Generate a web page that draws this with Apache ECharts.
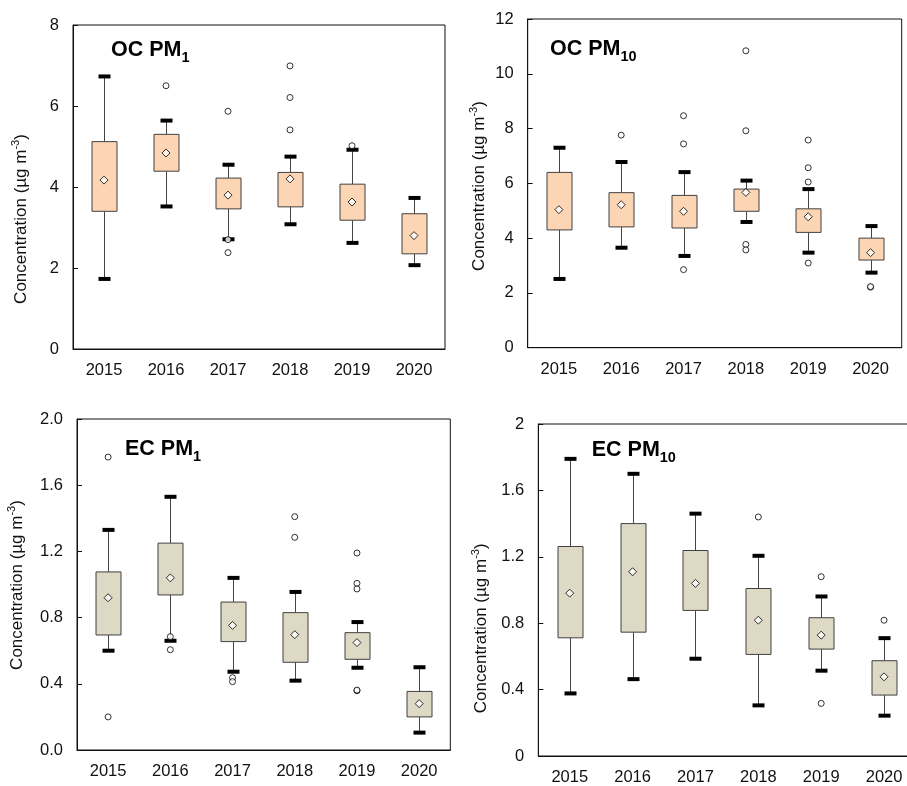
<!DOCTYPE html>
<html>
<head>
<meta charset="utf-8">
<script src="https://cdn.jsdelivr.net/npm/echarts@6/dist/echarts.min.js"></script>
<style>
html,body{margin:0;padding:0;background:#fff;overflow:hidden;}
#chart{width:930px;height:786px;}
</style>
</head>
<body>
<div id="chart"></div>
<script>
// ---------- data ----------
var years = ['2015', '2016', '2017', '2018', '2019', '2020'];

var ocPm1Low  = [1.73, 3.52, 2.71, 3.08, 2.62, 2.07];
var ocPm1Q1   = [3.40, 4.39, 3.46, 3.51, 3.18, 2.35];
var ocPm1Q3   = [5.12, 5.30, 4.22, 4.36, 4.07, 3.34];
var ocPm1High = [6.73, 5.64, 4.55, 4.75, 4.92, 3.73];
var ocPm1Mean = [4.17, 4.84, 3.80, 4.20, 3.63, 2.80];
var ocPm1Out  = [['2016', 6.50], ['2017', 5.87], ['2017', 2.70], ['2017', 2.38],
                 ['2018', 6.99], ['2018', 6.21], ['2018', 5.41], ['2019', 5.02]];

var ocPm10Low  = [2.51, 3.65, 3.35, 4.59, 3.47, 2.74];
var ocPm10Q1   = [4.30, 4.41, 4.37, 4.98, 4.21, 3.20];
var ocPm10Q3   = [6.40, 5.66, 5.56, 5.79, 5.07, 4.00];
var ocPm10High = [7.30, 6.78, 6.41, 6.10, 5.79, 4.44];
var ocPm10Mean = [5.04, 5.22, 4.98, 5.67, 4.78, 3.47];
var ocPm10Out  = [['2016', 7.76], ['2017', 8.47], ['2017', 7.44], ['2017', 2.85],
                  ['2018', 10.84], ['2018', 7.92], ['2018', 3.77], ['2018', 3.57],
                  ['2019', 7.58], ['2019', 6.57], ['2019', 6.05], ['2019', 3.09],
                  ['2020', 2.21], ['2020', 2.23]];

var ecPm1Low  = [0.600, 0.660, 0.473, 0.419, 0.497, 0.105];
var ecPm1Q1   = [0.695, 0.937, 0.655, 0.530, 0.548, 0.200];
var ecPm1Q3   = [1.076, 1.250, 0.894, 0.830, 0.709, 0.354];
var ecPm1High = [1.330, 1.530, 1.040, 0.955, 0.773, 0.500];
var ecPm1Mean = [0.920, 1.040, 0.753, 0.697, 0.649, 0.280];
var ecPm1Out  = [['2015', 1.77], ['2015', 0.20], ['2016', 0.685], ['2016', 0.606],
                 ['2017', 0.437], ['2017', 0.413], ['2018', 1.41], ['2018', 1.285],
                 ['2019', 1.19], ['2019', 1.007], ['2019', 0.973], ['2019', 0.358], ['2019', 0.362]];

var ecPm10Low  = [0.377, 0.463, 0.586, 0.305, 0.514, 0.243];
var ecPm10Q1   = [0.712, 0.746, 0.877, 0.612, 0.644, 0.367];
var ecPm10Q3   = [1.262, 1.400, 1.238, 1.009, 0.833, 0.574];
var ecPm10High = [1.790, 1.700, 1.460, 1.206, 0.961, 0.710];
var ecPm10Mean = [0.981, 1.110, 1.040, 0.818, 0.728, 0.477];
var ecPm10Out  = [['2018', 1.44], ['2019', 1.08], ['2019', 0.317], ['2020', 0.818]];

var yTicks1 = {min: 0, max: 8, interval: 2};
var yTicks2 = {min: 0, max: 12, interval: 2};
var yTicks3 = {min: 0, max: 2, interval: 0.4};
var yTicks4 = {min: 0, max: 2, interval: 0.4};

// ---------- layout / style ----------
var OC_FILL = '#FCD5B5';
var EC_FILL = '#DDD9C4';
var FONT = 'Liberation Sans, Arial, sans-serif';

var panels = [
  {grid: {left: 73, top: 25, width: 372, height: 324}, ticks: yTicks1, fmt: null,
   low: ocPm1Low, q1: ocPm1Q1, q3: ocPm1Q3, high: ocPm1High, mean: ocPm1Mean, out: ocPm1Out, fill: OC_FILL,
   title: ['OC PM', '1'], titlePos: [111, 50.5], namePos: [21.5, 219]},
  {grid: {left: 527.7, top: 19, width: 374, height: 328.7}, ticks: yTicks2, fmt: null,
   low: ocPm10Low, q1: ocPm10Q1, q3: ocPm10Q3, high: ocPm10High, mean: ocPm10Mean, out: ocPm10Out, fill: OC_FILL,
   title: ['OC PM', '10'], titlePos: [550, 49], namePos: [479.5, 186]},
  {grid: {left: 77, top: 419, width: 373.3, height: 331}, ticks: yTicks3, fmt: function (v) { return v.toFixed(1); },
   low: ecPm1Low, q1: ecPm1Q1, q3: ecPm1Q3, high: ecPm1High, mean: ecPm1Mean, out: ecPm1Out, fill: EC_FILL,
   title: ['EC PM', '1'], titlePos: [125, 449], namePos: [17, 585]},
  {grid: {left: 538.3, top: 424, width: 377.2, height: 335}, ticks: yTicks4, fmt: null,
   low: ecPm10Low, q1: ecPm10Q1, q3: ecPm10Q3, high: ecPm10High, mean: ecPm10Mean, out: ecPm10Out, fill: EC_FILL,
   title: ['EC PM', '10'], titlePos: [591.7, 450], namePos: [481.3, 628.3]}
];

var grids = [], xAxes = [], yAxes = [], series = [], graphics = [];

panels.forEach(function (p, gi) {
  grids.push(Object.assign({show: true, borderColor: '#111', borderWidth: 1, backgroundColor: 'transparent'}, p.grid));
  xAxes.push({
    type: 'category', gridIndex: gi, data: years, boundaryGap: true,
    axisLine: {show: true, lineStyle: {color: '#111', width: 1}},
    axisTick: {show: false},
    axisLabel: {color: '#111', fontSize: 16.5, fontFamily: FONT, margin: 13},
    splitLine: {show: false}
  });
  yAxes.push({
    type: 'value', gridIndex: gi, min: p.ticks.min, max: p.ticks.max, interval: p.ticks.interval,
    axisLine: {show: true, lineStyle: {color: '#111', width: 1}},
    axisTick: {show: true, inside: true, length: 5, lineStyle: {color: '#111'}},
    axisLabel: {color: '#111', fontSize: 16.5, fontFamily: FONT, margin: 14, formatter: p.fmt || undefined},
    splitLine: {show: false}
  });

  var boxData = years.map(function (y, i) { return [i, p.low[i], p.q1[i], p.q3[i], p.high[i]]; });
  var fill = p.fill;
  series.push({
    type: 'custom', xAxisIndex: gi, yAxisIndex: gi, z: 2,
    data: boxData,
    encode: {x: 0, y: [1, 2, 3, 4]},
    renderItem: function (params, api) {
      var x = api.value(0);
      var pl = api.coord([x, api.value(1)]);
      var pq1 = api.coord([x, api.value(2)]);
      var pq3 = api.coord([x, api.value(3)]);
      var ph = api.coord([x, api.value(4)]);
      var cx = Math.round(pl[0]) + 0.5;
      var bw = 25, cw = 12;
      return {
        type: 'group',
        children: [
          {type: 'line', shape: {x1: cx, y1: pl[1], x2: cx, y2: pq1[1]}, style: {stroke: '#444', lineWidth: 1}},
          {type: 'line', shape: {x1: cx, y1: pq3[1], x2: cx, y2: ph[1]}, style: {stroke: '#444', lineWidth: 1}},
          {type: 'rect', shape: {x: cx - bw / 2, y: pq3[1], width: bw, height: pq1[1] - pq3[1]},
           style: {fill: fill, stroke: '#404040', lineWidth: 1}},
          {type: 'line', shape: {x1: cx - cw / 2, y1: pl[1], x2: cx + cw / 2, y2: pl[1]}, style: {stroke: '#000', lineWidth: 4}},
          {type: 'line', shape: {x1: cx - cw / 2, y1: ph[1], x2: cx + cw / 2, y2: ph[1]}, style: {stroke: '#000', lineWidth: 4}}
        ]
      };
    }
  });
  series.push({
    type: 'scatter', xAxisIndex: gi, yAxisIndex: gi, z: 4,
    symbol: 'circle', symbolSize: 6,
    itemStyle: {color: '#fff', borderColor: '#000', borderWidth: 1},
    data: p.out
  });
  series.push({
    type: 'scatter', xAxisIndex: gi, yAxisIndex: gi, z: 5,
    symbol: 'diamond', symbolSize: 8,
    itemStyle: {color: '#fff', borderColor: '#000', borderWidth: 1},
    data: years.map(function (y, i) { return [i, p.mean[i]]; })
  });

  graphics.push({
    type: 'text', x: p.titlePos[0], y: p.titlePos[1], z: 10,
    style: {
      text: '{a|' + p.title[0] + '}{b|' + p.title[1] + '}',
      x: 0, y: 0, textAlign: 'left', align: 'left', textVerticalAlign: 'middle', verticalAlign: 'middle',
      fill: '#000',
      rich: {
        a: {fontSize: 21.5, fontWeight: 'bold', fontFamily: FONT, lineHeight: 30, fill: '#000', color: '#000'},
        b: {fontSize: 14.5, fontWeight: 'bold', fontFamily: FONT, lineHeight: 16, verticalAlign: 'bottom', fill: '#000', color: '#000'}
      }
    }
  });
  graphics.push({
    type: 'text', x: p.namePos[0], y: p.namePos[1], rotation: Math.PI / 2, z: 10,
    style: {
      text: '{a|Concentration (µg m}{b|-3}{a|)}',
      x: 0, y: 0, textAlign: 'center', align: 'center', textVerticalAlign: 'middle', verticalAlign: 'middle',
      fill: '#111',
      rich: {
        a: {fontSize: 17, fontFamily: FONT, lineHeight: 22, fill: '#111', color: '#111'},
        b: {fontSize: 11, fontFamily: FONT, lineHeight: 12, verticalAlign: 'top', fill: '#111', color: '#111'}
      }
    }
  });
});

var chart = echarts.init(document.getElementById('chart'), null, {renderer: 'canvas'});
chart.setOption({
  animation: false,
  backgroundColor: '#fff',
  grid: grids,
  xAxis: xAxes,
  yAxis: yAxes,
  series: series,
  graphic: {elements: graphics}
});
</script>
</body>
</html>
